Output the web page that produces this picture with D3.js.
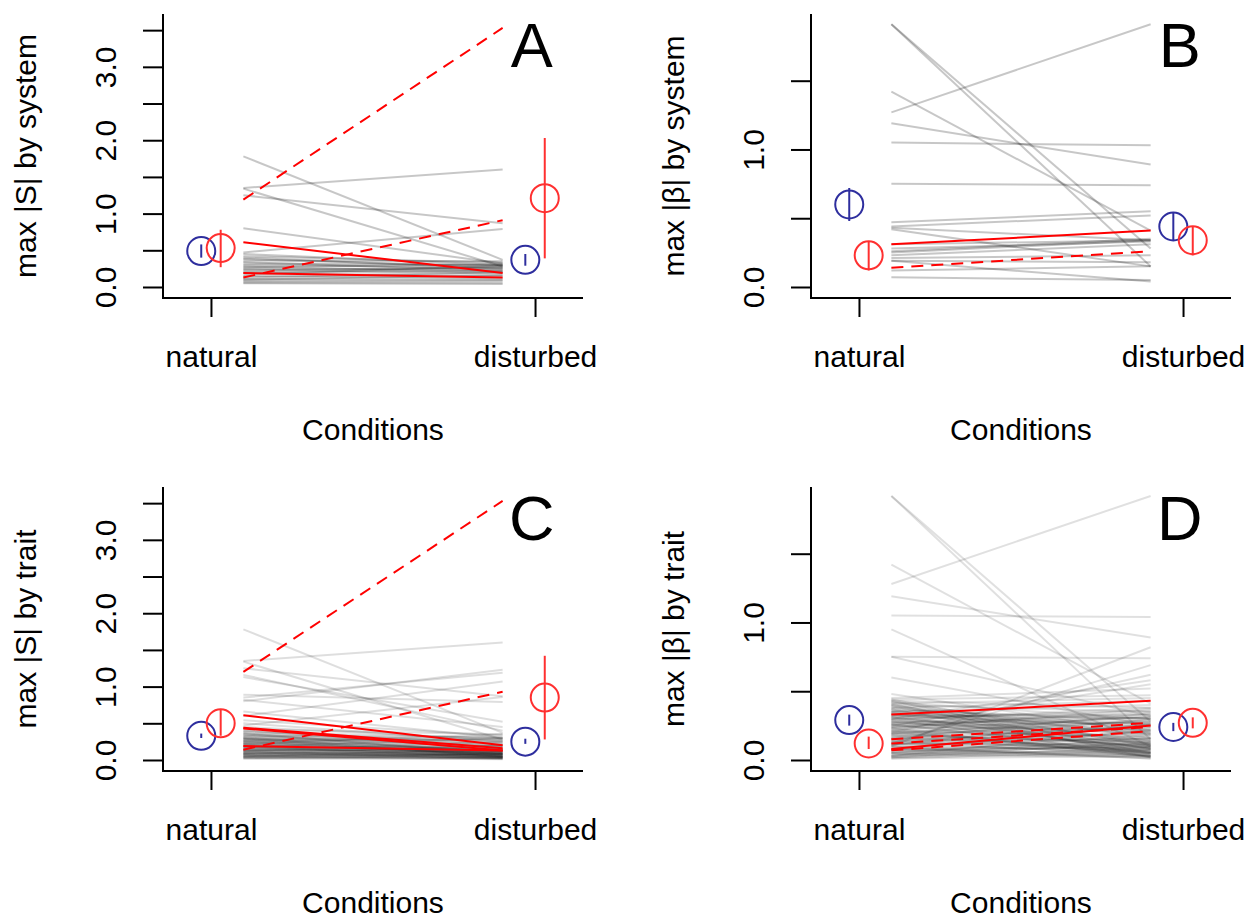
<!DOCTYPE html>
<html>
<head>
<meta charset="utf-8">
<script src="https://cdn.jsdelivr.net/npm/d3@7"></script>
<style>
  body { margin: 0; background: #fff; }
  svg { font-family: "Liberation Sans", Arial, Helvetica, sans-serif; }
</style>
</head>
<body>
<div id="chart"></div>
<script>
// four panels: natural vs disturbed conditions

const categories = ["natural", "disturbed"];
const panelLetters = ["A", "B", "C", "D"];
const yTitles = ["max |S| by system", "max |\u03b2| by system", "max |S| by trait", "max |\u03b2| by trait"];
const yTicksS = [0, 0.5, 1, 1.5, 2, 2.5, 3, 3.5];
const yTicksB = [0, 0.5, 1, 1.5];

// grey lines, each [natural, disturbed]
const greyA = [[1.78,0.37],[1.35,1.60],[1.34,0.28],[1.25,0.87],[0.80,0.32],[0.47,0.79],[0.45,0.30],[0.42,0.33],
  [0.40,0.25],[0.38,0.28],[0.36,0.35],[0.34,0.22],[0.32,0.30],[0.30,0.26],[0.28,0.20],[0.27,0.31],[0.25,0.24],
  [0.24,0.18],[0.22,0.27],[0.20,0.22],[0.19,0.15],[0.17,0.29],[0.15,0.12],[0.13,0.20],[0.11,0.10],[0.10,0.16],
  [0.08,0.09],[0.06,0.06],[0.05,0.04]];
const greyB = [[1.91,0.15],[1.91,0.28],[1.27,1.91],[1.42,0.41],[1.19,0.89],[1.05,1.03],[0.75,0.74],[0.47,0.55],
  [0.44,0.52],[0.43,0.34],[0.42,0.15],[0.31,0.34],[0.28,0.33],[0.26,0.35],[0.23,0.31],[0.21,0.23],[0.19,0.18],
  [0.25,0.34],[0.12,0.15],[0.19,0.04],[0.07,0.05]];
const greyC = [[1.78,0.37],[1.35,1.60],[1.34,0.28],[1.25,0.87],[1.16,0.40],[1.13,0.52],[0.80,1.23],[0.85,1.19],
  [0.60,1.07],[0.89,0.79],[0.82,0.45],[0.66,0.30],[0.47,0.86],[0.54,0.33],[0.50,0.25],[0.45,0.28],[0.42,0.35],
  [0.40,0.22],[0.38,0.30],[0.36,0.26],[0.35,0.20],[0.33,0.31],[0.32,0.24],[0.30,0.18],[0.29,0.27],[0.28,0.22],
  [0.27,0.15],[0.26,0.29],[0.25,0.12],[0.24,0.20],[0.23,0.10],[0.22,0.16],[0.21,0.09],[0.20,0.06],[0.19,0.04],
  [0.18,0.14],[0.17,0.11],[0.16,0.19],[0.15,0.08],[0.14,0.13],[0.13,0.05],[0.12,0.17],[0.11,0.07],[0.10,0.10],
  [0.09,0.03],[0.08,0.12],[0.07,0.06],[0.06,0.02],[0.05,0.09],[0.04,0.04],[0.03,0.08],[0.02,0.03],[0.22,0.35],
  [0.18,0.30],[0.12,0.25],[0.08,0.20],[0.05,0.15],[0.30,0.12],[0.26,0.08],[0.14,0.05],[0.10,0.03],[0.06,0.02],
  [0.35,0.10],[0.31,0.05],[0.28,0.12],[0.25,0.06],[0.22,0.09],[0.20,0.14],[0.18,0.03],[0.16,0.08],[0.14,0.11],
  [0.12,0.02],[0.10,0.06],[0.08,0.04],[0.06,0.08],[0.04,0.01],[0.03,0.05],[0.02,0.02],[0.40,0.15],[0.37,0.07],
  [0.33,0.18],[0.29,0.04]];
const greyD = [[1.92,0.15],[1.92,0.28],[1.28,1.92],[1.42,0.41],[1.19,0.89],[1.05,1.04],[0.95,0.10],[0.75,0.74],
  [0.75,0.32],[0.60,0.25],[0.48,0.20],[0.10,0.82],[0.12,0.69],[0.20,0.62],[0.30,0.58],[0.25,0.55],[0.45,0.52],
  [0.44,0.47],[0.43,0.38],[0.42,0.30],[0.41,0.45],[0.40,0.35],[0.39,0.22],[0.38,0.43],[0.37,0.28],[0.36,0.18],
  [0.35,0.40],[0.34,0.12],[0.33,0.30],[0.32,0.25],[0.31,0.08],[0.30,0.36],[0.29,0.20],[0.28,0.14],[0.27,0.33],
  [0.26,0.05],[0.25,0.27],[0.24,0.22],[0.23,0.10],[0.22,0.31],[0.21,0.17],[0.20,0.06],[0.19,0.24],[0.18,0.13],
  [0.17,0.29],[0.16,0.09],[0.15,0.19],[0.14,0.03],[0.13,0.26],[0.12,0.11],[0.11,0.16],[0.10,0.07],[0.09,0.21],
  [0.08,0.04],[0.07,0.14],[0.06,0.10],[0.05,0.18],[0.04,0.02],[0.03,0.08],[0.02,0.05],[0.01,0.03],[0.30,0.02],
  [0.26,0.12],[0.22,0.04],[0.18,0.07],[0.14,0.15],[0.10,0.01],[0.06,0.12],[0.03,0.16],[0.33,0.21],[0.28,0.09],
  [0.24,0.35],[0.20,0.28],[0.16,0.23],[0.12,0.05],[0.08,0.09],[0.05,0.06],[0.02,0.13],[0.35,0.26],[0.31,0.15],
  [0.27,0.19],[0.23,0.02],[0.19,0.11],[0.15,0.06],[0.11,0.25],[0.07,0.03],[0.04,0.11],[0.01,0.07],
  [0.44,0.10],[0.43,0.05],[0.42,0.16],[0.41,0.02],[0.40,0.12],[0.39,0.08],[0.38,0.19],[0.37,0.04],[0.36,0.30],
  [0.35,0.14],[0.34,0.24],[0.33,0.06],[0.32,0.33],[0.31,0.11],[0.29,0.38],[0.28,0.27],[0.26,0.31],[0.25,0.09],
  [0.23,0.37],[0.21,0.03],[0.19,0.32],[0.17,0.05],[0.15,0.34],[0.13,0.08],[0.11,0.30],[0.09,0.01],[0.07,0.26],
  [0.05,0.03],[0.03,0.22],[0.02,0.09]];

// red trend lines, each [natural, disturbed]
const redSolidA = [[0.61,0.19],[0.19,0.13]];
const redDashA = [[1.19,3.53],[0.13,0.91]];
const redSolidB = [[0.31,0.41]];
const redDashB = [[0.14,0.26]];
const redSolidC = [[0.61,0.20],[0.44,0.16],[0.43,0.13],[0.19,0.13]];
const redDashC = [[1.20,3.53],[0.14,0.93]];
const redSolidD = [[0.33,0.43],[0.08,0.25]];
const redDashD = [[0.15,0.27],[0.07,0.21],[0.12,0.24]];

// group means with intervals: [mean, low, high] for natural, disturbed
const blueA = [[0.49,0.40,0.58],[0.37,0.29,0.45]];
const redA  = [[0.53,0.27,0.78],[1.21,0.39,2.03]];
const blueB = [[0.60,0.48,0.72],[0.44,0.34,0.54]];
const redB  = [[0.23,0.12,0.33],[0.34,0.23,0.44]];
const blueC = [[0.33,0.30,0.36],[0.25,0.22,0.29]];
const redC  = [[0.50,0.33,0.69],[0.85,0.28,1.42]];
const blueD = [[0.29,0.25,0.33],[0.24,0.21,0.27]];
const redD  = [[0.12,0.08,0.17],[0.27,0.23,0.31]];

const panels = [
  {grey: greyA, solid: redSolidA, dash: redDashA, blue: blueA, red: redA, ticks: yTicksS, ylim: [-0.15, 3.72], alpha: 0.22},
  {grey: greyB, solid: redSolidB, dash: redDashB, blue: blueB, red: redB, ticks: yTicksB, ylim: [-0.08, 1.985], alpha: 0.22},
  {grey: greyC, solid: redSolidC, dash: redDashC, blue: blueC, red: redC, ticks: yTicksS, ylim: [-0.15, 3.72], alpha: 0.13},
  {grey: greyD, solid: redSolidD, dash: redDashD, blue: blueD, red: redD, ticks: yTicksB, ylim: [-0.08, 1.985], alpha: 0.12}
];

const width = 1250, height = 919;
const pw = 420, ph = 284;
const origins = [[163, 14], [811, 14], [163, 487], [811, 487]];
const blue = "#2e2e9e", red = "#ff0000", redCircle = "#ff3030";

let svg = d3.select("#chart")
  .append("svg")
  .attr("width", width)
  .attr("height", height)
  .attr("viewBox", [0, 0, width, height]);

panels.forEach((p, i) => {
  const [left, top] = origins[i];
  const x = d3.scaleLinear().domain([0.852, 2.148]).range([left, left + pw]);
  const y = d3.scaleLinear().domain(p.ylim).range([top + ph, top]);
  const g = svg.append("g");

  // grey lines
  g.selectAll(".grey")
    .data(p.grey)
    .join("line")
    .attr("x1", x(1.1)).attr("x2", x(1.9))
    .attr("y1", d => y(d[0])).attr("y2", d => y(d[1]))
    .attr("stroke", "black")
    .attr("stroke-opacity", p.alpha)
    .attr("stroke-width", 2);

  // red lines
  g.selectAll(".solid")
    .data(p.solid)
    .join("line")
    .attr("x1", x(1.1)).attr("x2", x(1.9))
    .attr("y1", d => y(d[0])).attr("y2", d => y(d[1]))
    .attr("stroke", red)
    .attr("stroke-width", 2);

  g.selectAll(".dash")
    .data(p.dash)
    .join("line")
    .attr("x1", x(1.1)).attr("x2", x(1.9))
    .attr("y1", d => y(d[0])).attr("y2", d => y(d[1]))
    .attr("stroke", red)
    .attr("stroke-width", 2)
    .attr("stroke-dasharray", "12,8");

  // means with intervals
  const groups = [
    {vals: p.blue, off: -0.03, col: blue},
    {vals: p.red, off: 0.03, col: redCircle}
  ];
  groups.forEach(grp => {
    const m = g.selectAll(null)
      .data(grp.vals)
      .join("g");
    m.append("line")
      .attr("x1", (d, k) => x(k + 1 + grp.off))
      .attr("x2", (d, k) => x(k + 1 + grp.off))
      .attr("y1", d => y(d[1]))
      .attr("y2", d => y(d[2]))
      .attr("stroke", grp.col)
      .attr("stroke-width", 2);
    m.append("circle")
      .attr("cx", (d, k) => x(k + 1 + grp.off))
      .attr("cy", d => y(d[0]))
      .attr("r", 14)
      .attr("fill", "none")
      .attr("stroke", grp.col)
      .attr("stroke-width", 2);
  });

  // box (L shape)
  g.append("path")
    .attr("d", `M${left},${top}V${top + ph}H${left + pw}`)
    .attr("fill", "none")
    .attr("stroke", "black")
    .attr("stroke-width", 2);

  // y axis
  g.append("g")
    .attr("transform", `translate(${left},0)`)
    .call(d3.axisLeft(y).tickValues(p.ticks).tickSize(20)
      .tickFormat(d => Number.isInteger(d) ? d.toFixed(1) : ""))
    .call(a => a.select(".domain").remove())
    .call(a => a.selectAll("line").attr("stroke-width", 2))
    .call(a => a.selectAll("text")
      .attr("x", null).attr("dy", null)
      .attr("text-anchor", "middle")
      .attr("transform", "translate(-47,0) rotate(-90)")
      .attr("fill", "black")
      .style("font-size", "30px")
      .style("font-family", "Liberation Sans, Arial, sans-serif"));

  // x axis
  g.append("g")
    .attr("transform", `translate(0,${top + ph})`)
    .call(d3.axisBottom(x).tickValues([1, 2]).tickSize(19)
      .tickFormat(d => categories[d - 1]))
    .call(a => a.select(".domain").remove())
    .call(a => a.selectAll("line").attr("stroke-width", 2))
    .call(a => a.selectAll("text")
      .attr("y", 69).attr("dy", null)
      .attr("fill", "black")
      .style("font-size", "30px")
      .style("font-family", "Liberation Sans, Arial, sans-serif"));

  // titles
  g.append("text")
    .attr("x", left + pw / 2)
    .attr("y", top + ph + 142)
    .attr("text-anchor", "middle")
    .style("font-size", "30px")
    .text("Conditions");

  g.append("text")
    .attr("transform", `translate(${left - 127},${top + ph / 2}) rotate(-90)`)
    .attr("text-anchor", "middle")
    .style("font-size", "30px")
    .text(yTitles[i]);

  g.append("text")
    .attr("x", x(1.99))
    .attr("y", top + 53)
    .attr("text-anchor", "middle")
    .style("font-size", "63px")
    .text(panelLetters[i]);
});
</script>
</body>
</html>
